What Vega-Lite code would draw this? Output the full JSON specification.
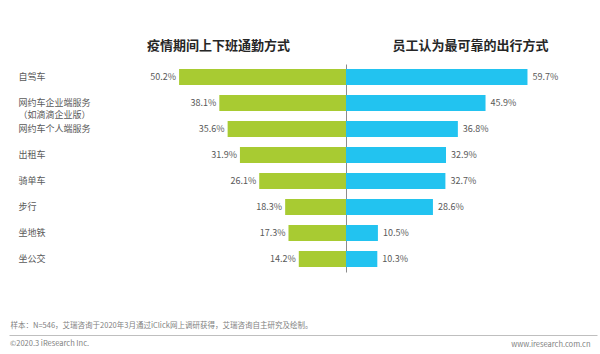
{
  "$schema": "https://vega.github.io/schema/vega-lite/v6.json",
  "width": 600,
  "height": 354,
  "autosize": {"type": "none"},
  "padding": 0,
  "background": "white",
  "config": {
    "font": "Noto Sans CJK SC",
    "view": {"stroke": null},
    "title": {"font": "Noto Sans CJK SC"}
  },
  "title": {
    "text": "©2020.3 iResearch Inc.",
    "orient": "bottom",
    "anchor": "start",
    "frame": "group",
    "offset": -10,
    "dx": 10,
    "baseline": "middle",
    "fontSize": 7.5,
    "fontWeight": "normal",
    "color": "#7f7f7f"
  },
  "data": {
    "values": [
      {"mode": "自驾车", "commute": 0.502, "reliable": 0.597},
      {"mode": "网约车企业端服务（如滴滴企业版）", "commute": 0.381, "reliable": 0.459},
      {"mode": "网约车个人端服务", "commute": 0.356, "reliable": 0.368},
      {"mode": "出租车", "commute": 0.319, "reliable": 0.329},
      {"mode": "骑单车", "commute": 0.261, "reliable": 0.327},
      {"mode": "步行", "commute": 0.183, "reliable": 0.286},
      {"mode": "坐地铁", "commute": 0.173, "reliable": 0.105},
      {"mode": "坐公交", "commute": 0.142, "reliable": 0.103}
    ]
  },
  "layer": [
    {
      "encoding": {
        "y": {
          "field": "mode",
          "type": "nominal",
          "sort": null,
          "scale": {"range": [64, 272], "paddingInner": 0.385, "paddingOuter": 0.1925},
          "axis": {
            "orient": "left",
            "offset": -18,
            "domain": false,
            "ticks": false,
            "tickSize": 0,
            "labelAlign": "left",
            "labelPadding": 0,
            "labelBaseline": "middle",
            "labelFontSize": 9,
            "labelColor": "#595959",
            "labelLineHeight": 12,
            "labelExpr": "indexof(datum.label,'（')>0 ? [substring(datum.label,0,indexof(datum.label,'（')), substring(datum.label,indexof(datum.label,'（'))] : datum.label",
            "title": "员工认为最可靠的出行方式",
            "titleAngle": 0,
            "titleX": 452,
            "titleY": 45,
            "titleAlign": "center",
            "titleBaseline": "middle",
            "titleFontSize": 13,
            "titleFontWeight": "bold",
            "titleColor": "#262626"
          }
        },
        "x": {
          "field": "commute",
          "type": "quantitative",
          "scale": {"domain": [-0.7639, 1.0406], "reverse": true, "nice": false},
          "axis": {
            "orient": "top",
            "offset": -45,
            "domain": false,
            "ticks": false,
            "labels": false,
            "grid": false,
            "title": "疫情期间上下班通勤方式",
            "titleX": 218,
            "titleY": 0,
            "titleAlign": "center",
            "titleBaseline": "middle",
            "titleFontSize": 13,
            "titleFontWeight": "bold",
            "titleColor": "#262626"
          }
        }
      },
      "layer": [
        {"mark": {"type": "bar", "color": "#A8CB32"}},
        {
          "mark": {"type": "text", "align": "right", "dx": -3, "baseline": "middle", "fontSize": 9, "color": "#595959"},
          "encoding": {"text": {"field": "commute", "type": "quantitative", "format": ".1%"}}
        }
      ]
    },
    {
      "encoding": {
        "y": {
          "field": "mode",
          "type": "nominal",
          "sort": null,
          "scale": {"range": [64, 272], "paddingInner": 0.385, "paddingOuter": 0.1925},
          "axis": {
            "orient": "left",
            "offset": -346,
            "domain": true,
            "domainColor": "#8c8c8c",
            "domainWidth": 1,
            "ticks": false,
            "labels": false,
            "grid": false,
            "title": "样本：N=546，艾瑞咨询于2020年3月通过iClick网上调研获得，艾瑞咨询自主研究及绘制。",
            "titleAngle": 0,
            "titleX": -336,
            "titleY": 325,
            "titleAlign": "left",
            "titleBaseline": "middle",
            "titleFontSize": 7.5,
            "titleFontWeight": "normal",
            "titleColor": "#7f7f7f"
          }
        },
        "x": {
          "field": "reliable",
          "type": "quantitative",
          "scale": {"domain": [-1.1086, 0.8257], "range": [9, 597], "nice": false},
          "axis": {
            "orient": "bottom",
            "offset": -19,
            "domain": true,
            "domainColor": "#bfbfbf",
            "domainWidth": 1,
            "ticks": false,
            "labels": false,
            "grid": false,
            "title": "www.iresearch.com.cn",
            "titleX": 590,
            "titleY": 9,
            "titleAlign": "right",
            "titleBaseline": "middle",
            "titleFontSize": 7.5,
            "titleFontWeight": "normal",
            "titleColor": "#7f7f7f"
          }
        }
      },
      "layer": [
        {"mark": {"type": "bar", "color": "#22C3F0"}},
        {
          "mark": {"type": "text", "align": "left", "dx": 5, "baseline": "middle", "fontSize": 9, "color": "#595959"},
          "encoding": {"text": {"field": "reliable", "type": "quantitative", "format": ".1%"}}
        }
      ]
    }
  ],
  "resolve": {
    "scale": {"x": "independent", "y": "independent"},
    "axis": {"x": "independent", "y": "independent"}
  }
}
